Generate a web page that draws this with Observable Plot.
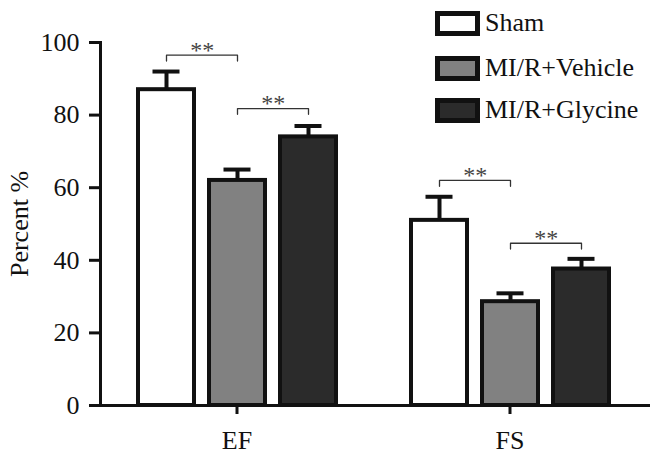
<!DOCTYPE html>
<html><head><meta charset="utf-8">
<script src="https://cdn.jsdelivr.net/npm/d3@7"></script>
<script src="https://cdn.jsdelivr.net/npm/@observablehq/plot@0.6"></script>
<style>
body{margin:0;background:#fff;}
#wrap{position:relative;width:660px;height:456px;font-family:"Liberation Serif","DejaVu Serif",serif;}
#legend{position:absolute;left:435px;top:0;}
.row{position:absolute;left:0;display:flex;align-items:center;white-space:nowrap;font-size:26px;color:#111;line-height:1;}
.sw{width:45px;height:25px;border:5px solid #111;box-sizing:border-box;margin-right:5px;}
</style></head><body><div id="wrap"></div>
<script>
// ---- data ----
const groups = ["EF", "FS"];
const series = ["Sham", "MI/R+Vehicle", "MI/R+Glycine"];
const seriesColors = ["#ffffff", "#818181", "#2b2b2b"];
const efMean = [87, 62, 74];
const efSem = [5, 3, 3];
const fsMean = [51, 28.6, 37.6];
const fsSem = [6.5, 2.3, 2.8];
const yTicks = [0, 20, 40, 60, 80, 100];
const yLabel = "Percent %";
// significance brackets
const bracketGroup = ["EF", "EF", "FS", "FS"];
const bracketFrom = ["Sham", "MI/R+Vehicle", "Sham", "MI/R+Vehicle"];
const bracketTo = ["MI/R+Vehicle", "MI/R+Glycine", "MI/R+Vehicle", "MI/R+Glycine"];
const bracketLevel = [96.5, 81.8, 62, 44.7];
const bracketLabel = ["**", "**", "**", "**"];

// ---- tables ----
const means = [efMean, fsMean];
const sems = [efSem, fsSem];
const rows = groups.flatMap((g, gi) => series.map((s, si) => ({group: g, series: s, mean: means[gi][si], sem: sems[gi][si]})));
const brackets = bracketGroup.map((g, i) => ({id: i, group: g, from: bracketFrom[i], to: bracketTo[i], level: bracketLevel[i], label: bracketLabel[i]}));
const legLen = 1.6;
const bracketPts = brackets.flatMap(b => [
  {id: b.id, group: b.group, x: b.from, y: b.level - legLen},
  {id: b.id, group: b.group, x: b.from, y: b.level},
  {id: b.id, group: b.group, x: b.to, y: b.level},
  {id: b.id, group: b.group, x: b.to, y: b.level - legLen}
]);

const ink = "#111";
const serifFont = '"Liberation Serif", "DejaVu Serif", serif';
const chart = Plot.plot({
  width: 660,
  height: 456,
  marginTop: 42,
  marginBottom: 51,
  marginLeft: 100,
  marginRight: 10,
  style: {fontFamily: serifFont, background: "#fff", color: ink, overflow: "visible"},
  fx: {domain: groups, paddingInner: 0, paddingOuter: 0.0073, align: 0, axis: null},
  x: {domain: series, paddingInner: 0.217, paddingOuter: 0.5175, axis: null},
  y: {domain: [0, 100], axis: null},
  color: {domain: series, range: seriesColors},
  marks: [
    Plot.barY(rows, {fx: "group", x: "series", y: "mean", fill: "series", stroke: ink, strokeWidth: 4}),
    Plot.ruleX(rows, {fx: "group", x: "series", y1: "mean", y2: d => d.mean + d.sem, stroke: ink, strokeWidth: 4}),
    Plot.tickY(rows, {fx: "group", x: "series", y: d => d.mean + d.sem, stroke: ink, strokeWidth: 4, insetLeft: 14.5, insetRight: 14.5}),
    Plot.line(bracketPts, {fx: "group", x: "x", y: "y", z: "id", stroke: "#333", strokeWidth: 1.3}),
    Plot.text(brackets, {fx: "group", x: "from", y: "level", text: "label", dx: 35.7, dy: -5, fontSize: 24, fill: "#444", fontFamily: serifFont}),
    Plot.ruleY([0], {stroke: ink, strokeWidth: 3, insetRight: -4}),
    Plot.frame({anchor: "left", stroke: ink, strokeWidth: 3, facetAnchor: "left"}),
    Plot.axisY({ticks: yTicks, tickSize: 11, tickPadding: 10, fontSize: 26, fontFamily: serifFont, strokeWidth: 3, color: ink, label: null, tickFormat: d => d}),
    Plot.axisFx({anchor: "bottom", tickSize: 9, tickPadding: 16, fontSize: 26, fontFamily: serifFont, strokeWidth: 3, color: ink, label: null}),
    Plot.text([yLabel], {frameAnchor: "left", textAnchor: "middle", rotate: -90, dx: -81, fontSize: 26, fontFamily: serifFont, fill: ink, facetAnchor: "left"})
  ]
});

const wrap = document.getElementById("wrap");
wrap.appendChild(chart);

// legend overlay (inside the plot area, top right)
const legendTops = [10, 55, 97];
const legend = document.createElement("div");
legend.id = "legend";
series.forEach((s, i) => {
  const row = document.createElement("div");
  row.className = "row";
  row.style.top = legendTops[i] + "px";
  const sw = document.createElement("div");
  sw.className = "sw";
  sw.style.background = seriesColors[i];
  const label = document.createElement("span");
  label.textContent = s;
  row.appendChild(sw);
  row.appendChild(label);
  legend.appendChild(row);
});
wrap.appendChild(legend);
</script>
</body></html>
